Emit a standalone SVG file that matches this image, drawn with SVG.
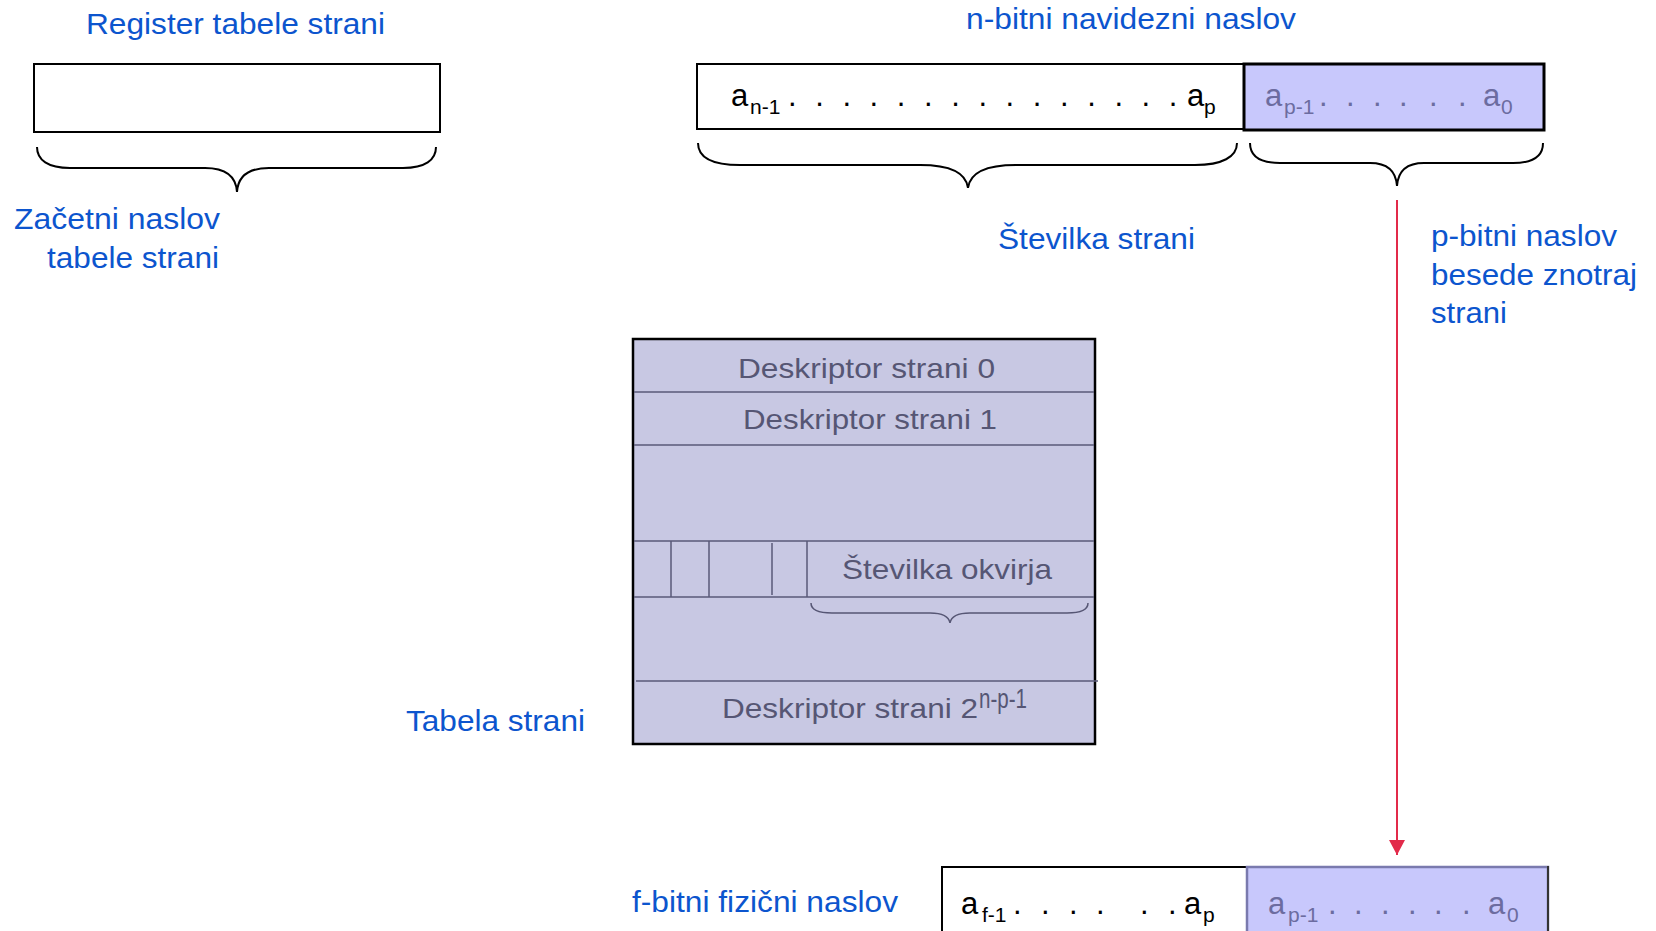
<svg xmlns="http://www.w3.org/2000/svg" width="1656" height="931" viewBox="0 0 1656 931">
<style>
text{font-family:"Liberation Sans",Arial,sans-serif}
.lbl{fill:#0c55ce;font-size:29px}
.tbl{fill:#565674;font-size:28px}
.blk{fill:#000;font-size:31px}
.pur{fill:#6c6ca0;font-size:31px}
.sub{font-size:21px}
.brace{fill:none;stroke:#000;stroke-width:2}
.tline{stroke:#5a5a78;stroke-width:1.5;fill:none}
</style>
<defs>
<marker id="arr" markerWidth="16" markerHeight="16" refX="15" refY="8" orient="auto" markerUnits="userSpaceOnUse">
<path d="M0,0 L15,8 L0,16 Z" fill="#e22a4a"/>
</marker>
</defs>
<rect width="1656" height="931" fill="#fff"/>

<g id="register">
<text class="lbl" x="86" y="34" textLength="299" lengthAdjust="spacingAndGlyphs">Register tabele strani</text>
<rect x="34" y="64" width="406" height="68" fill="#fff" stroke="#000" stroke-width="2"/>
<path class="brace" d="M37,147 C37,160 48,168 70,168 L205,168 C226,168 236,176 237,192 C238,176 248,168 269,168 L403,168 C425,168 436,160 436,147"/>
<text class="lbl" x="14" y="229" textLength="206" lengthAdjust="spacingAndGlyphs">Začetni naslov</text>
<text class="lbl" x="47" y="268" textLength="172" lengthAdjust="spacingAndGlyphs">tabele strani</text>
</g>

<g id="virtual-address">
<text class="lbl" x="966" y="29" textLength="330" lengthAdjust="spacingAndGlyphs">n-bitni navidezni naslov</text>
<rect x="697" y="64" width="547" height="65" fill="#fff" stroke="#000" stroke-width="2"/>
<rect x="1244" y="64" width="300" height="66" fill="#c8c8fc" stroke="#000" stroke-width="3"/>
<text class="blk" x="731" y="106">a</text>
<text class="blk sub" x="750" y="114">n-1</text>
<text class="blk" x="788 815.2 842.4 869.6 896.8 924 951.2 978.4 1005.6 1032.8 1060 1087.2 1114.4 1141.6 1168.8" y="106">...............</text>
<text class="blk" x="1187" y="106">a</text>
<text class="blk sub" x="1204" y="114">p</text>
<text class="pur" x="1265" y="106">a</text>
<text class="pur sub" x="1284" y="114">p-1</text>
<text class="pur" x="1319 1346 1373 1399 1429 1458" y="106">......</text>
<text class="pur" x="1483" y="106">a</text>
<text class="pur sub" x="1501" y="114">0</text>
<path class="brace" d="M698,143 C698,157 712,165 740,165 L920,165 C950,165 966,172 968,188 C970,172 986,165 1016,165 L1195,165 C1222,165 1237,157 1237,143"/>
<path class="brace" d="M1250,143 C1250,156 1260,163 1280,163 L1370,163 C1388,163 1396,171 1397,186 C1398,171 1406,163 1424,163 L1513,163 C1533,163 1543,156 1543,143"/>
<text class="lbl" x="998" y="249" textLength="197" lengthAdjust="spacingAndGlyphs">Številka strani</text>
<text class="lbl" x="1431" y="246" textLength="186" lengthAdjust="spacingAndGlyphs">p-bitni naslov</text>
<text class="lbl" x="1431" y="285" textLength="206" lengthAdjust="spacingAndGlyphs">besede znotraj</text>
<text class="lbl" x="1431" y="323" textLength="76" lengthAdjust="spacingAndGlyphs">strani</text>
</g>

<g id="page-table">
<rect x="633" y="339" width="462" height="405" fill="#c8c8e3" stroke="#000" stroke-width="2.5"/>
<line class="tline" x1="634" y1="392" x2="1094" y2="392"/>
<line class="tline" x1="634" y1="445" x2="1094" y2="445"/>
<line class="tline" x1="634" y1="541" x2="1094" y2="541"/>
<line class="tline" x1="634" y1="597" x2="1094" y2="597"/>
<line class="tline" x1="636" y1="681" x2="1098" y2="681"/>
<line class="tline" x1="671" y1="541" x2="671" y2="597"/>
<line class="tline" x1="709" y1="541" x2="709" y2="597"/>
<line class="tline" x1="772" y1="543" x2="772" y2="595"/>
<line class="tline" x1="807" y1="541" x2="807" y2="597"/>
<text class="tbl" x="738" y="378" textLength="257" lengthAdjust="spacingAndGlyphs">Deskriptor strani 0</text>
<text class="tbl" x="743" y="429" textLength="254" lengthAdjust="spacingAndGlyphs">Deskriptor strani 1</text>
<text class="tbl" x="842" y="579" textLength="210" lengthAdjust="spacingAndGlyphs">Številka okvirja</text>
<path d="M811,603 C811,610 818,613 832,613 L930,613 C943,613 949,617 950,623 C951,617 957,613 970,613 L1067,613 C1081,613 1088,610 1088,603" fill="none" stroke="#565674" stroke-width="1.5"/>
<text class="tbl" x="722" y="718" textLength="256" lengthAdjust="spacingAndGlyphs">Deskriptor strani 2</text>
<text class="tbl" x="979" y="708" font-size="18" textLength="48" lengthAdjust="spacingAndGlyphs">n-p-1</text>
<text class="lbl" x="406" y="731" textLength="179" lengthAdjust="spacingAndGlyphs">Tabela strani</text>
</g>

<g id="physical-address">
<text class="lbl" x="632" y="912" textLength="266" lengthAdjust="spacingAndGlyphs">f-bitni fizični naslov</text>
<rect x="942" y="867" width="305" height="80" fill="#fff" stroke="#000" stroke-width="2"/>
<rect x="1247" y="867" width="301" height="80" fill="#c8c8fc" stroke="#7a7aae" stroke-width="2.5"/>
<line x1="1548" y1="866" x2="1548" y2="931" stroke="#333" stroke-width="2"/>
<text class="blk" x="961" y="914" font-size="32">a</text>
<text class="blk sub" x="982" y="922">f-1</text>
<text class="blk" x="1013 1041 1069 1096 1140 1168" y="914">......</text>
<text class="blk" x="1184" y="914" font-size="32">a</text>
<text class="blk sub" x="1203" y="922">p</text>
<text class="pur" x="1268" y="914" font-size="32">a</text>
<text class="pur sub" x="1288" y="922">p-1</text>
<text class="pur" x="1328 1354 1381 1408 1434 1462" y="914">......</text>
<text class="pur" x="1488" y="914" font-size="32">a</text>
<text class="pur sub" x="1507" y="922">0</text>
</g>

<g id="connectors">
<line x1="1397" y1="200" x2="1397" y2="855" stroke="#e22a4a" stroke-width="2" marker-end="url(#arr)"/>
</g>
</svg>
